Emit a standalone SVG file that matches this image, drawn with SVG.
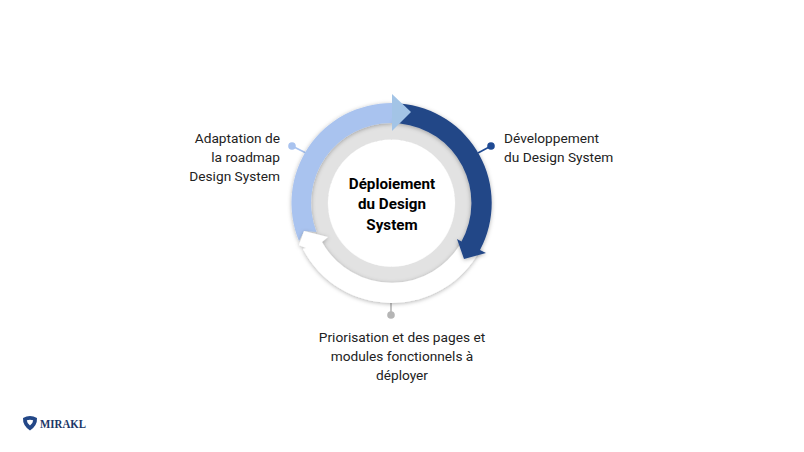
<svg xmlns="http://www.w3.org/2000/svg" width="804" height="452" viewBox="0 0 804 452">
<style>
text{font-family:Roboto,"Liberation Sans",sans-serif;font-size:13.7px;fill:#222}
.c{text-anchor:middle}.r{text-anchor:end}
.b{font-weight:700;fill:#000;font-size:15.2px}
</style>
<defs>
<filter id="s" x="-20%" y="-20%" width="140%" height="140%"><feDropShadow dx="0" dy="1" stdDeviation="2" flood-color="#000" flood-opacity=".3"/></filter>
</defs>
<rect width="804" height="452" fill="#fff"/>
<g id="connectors" fill="none" stroke-width="1.6">
<line x1="292" y1="146" x2="306" y2="153" stroke="#a9c3ef"/>
<line x1="491" y1="146" x2="478" y2="153" stroke="#1f4a93"/>
<line x1="391" y1="303" x2="391" y2="315" stroke="#b5b5b5"/>
<circle cx="292" cy="146" r="3.8" fill="#a9c3ef" stroke="none"/>
<circle cx="491" cy="146" r="3.8" fill="#1f4a93" stroke="none"/>
<circle cx="391" cy="315" r="3.8" fill="#b5b5b5" stroke="none"/>
</g>
<g id="core">
<path d="M391.500 123a80 80 0 1 0 .01 0zM391.500 139a64 64 0 1 1-.01 0z" fill="#e2e2e2" fill-rule="evenodd" filter="url(#s)"/>
<circle cx="391.500" cy="203" r="63.500" fill="#fff"/>
<text class="c b" x="392" y="189">Déploiement</text>
<text class="c b" x="392" y="209">du Design</text>
<text class="c b" x="392" y="230">System</text>
</g>
<g id="step-adaptation">
<path d="M392 103A100 100 0 0 0 299 241L304 231L316.500 232A80 80 0 0 1 392 123Z" fill="#a9c3ef" filter="url(#s)"/>
<text class="r" x="280" y="142.500">Adaptation de</text>
<text class="r" x="280" y="161.500">la roadmap</text>
<text class="r" x="280" y="180.500">Design System</text>
</g>
<g id="step-prioritisation">
<path d="M304 231L328 237L322 242A80 80 0 0 0 462 241L480 250A100 100 0 0 1 303 249L306 248L299 245Z" fill="#fff" filter="url(#s)"/>
<text class="c" x="402" y="342">Priorisation et des pages et</text>
<text class="c" x="402" y="361">modules fonctionnels à</text>
<text class="c" x="402" y="380">déployer</text>
</g>
<g id="step-development">
<path d="M400 103.400A100 100 0 0 1 480 250L486 253L464 259L457 239L461.500 241.500A80 80 0 0 0 400 123.400L392 123L410 112Z" fill="#234787" filter="url(#s)"/>
<path d="M392 94L411 112L392 131Z" fill="#a3c4e6"/>
<text x="504" y="142.500">Développement</text>
<text x="504" y="161.500">du Design System</text>
</g>
<g id="logo">
<path d="M23 418Q30 414 37 418Q37.500 425.500 30 430.500Q22.500 425.500 23 418ZM26.800 420.300Q30 419 33.200 420.300Q33 423.500 30 425.500Q27 423.500 26.800 420.300Z" fill="#234787" fill-rule="evenodd"/>
<text x="40" y="427.500" textLength="46" lengthAdjust="spacingAndGlyphs" style="font-family:'Liberation Serif',serif;font-weight:700;font-size:12.500px;fill:#1c3767">MIRAKL</text>
</g>
</svg>
